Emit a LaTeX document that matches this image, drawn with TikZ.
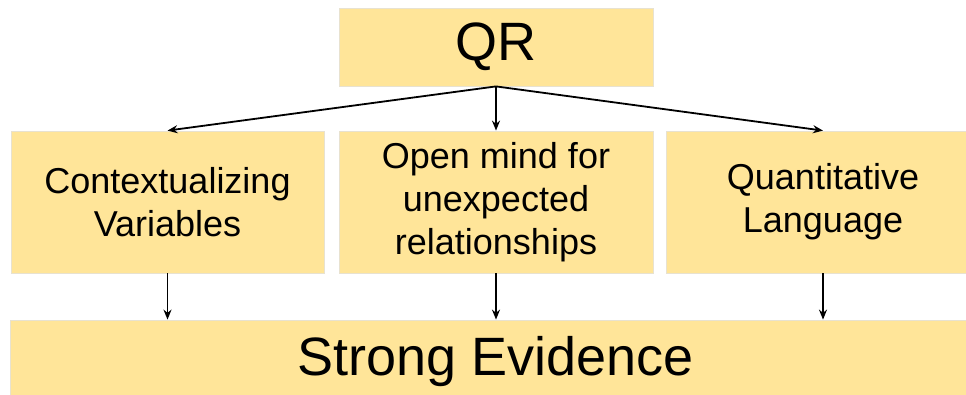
\documentclass[tikz,border=0pt]{standalone}
\usepackage{fontspec}
\setmainfont{Liberation Sans}
\usetikzlibrary{arrows.meta}
\definecolor{boxfill}{HTML}{FFE599}
\definecolor{boxline}{HTML}{E8E2D0}
\tikzset{
  box/.style={draw=boxline, line width=0.8pt, fill=boxfill, inner sep=0pt, align=center},
  midtext/.style={font=\fontsize{36}{43}\selectfont},
  bigtext/.style={font=\fontsize{54}{60}\selectfont},
  conn/.style={-{Stealth[length=10pt,width=8pt]}, line width=1.8pt, black}
}
\begin{document}
\begin{tikzpicture}[x=1pt,y=-1pt]
\useasboundingbox (0,0) rectangle (966,394);
\clip (0,0) rectangle (966,394);
\node[box, bigtext, minimum width=314pt, minimum height=78pt] (qr) at (496,47) {QR};
\node[box, midtext, minimum width=313pt, minimum height=142pt] (ctx) at (167.5,202) {Contextualizing\\Variables};
\node[box, midtext, minimum width=314pt, minimum height=142pt] (open) at (496,202) {Open mind for\\unexpected\\relationships};
\node[box, midtext, minimum width=313pt, minimum height=142pt] (quant) at (823,202) {Quantitative\\Language};
\node[box, bigtext, minimum width=970pt, minimum height=84pt] (ev) at (495.5,362) {Strong Evidence};
\draw[conn] (qr.south) -- (ctx.north);
\draw[conn] (qr.south) -- (open.north);
\draw[conn] (qr.south) -- (quant.north);
\draw[conn] (ctx.south) -- (ctx.south |- ev.north);
\draw[conn] (open.south) -- (open.south |- ev.north);
\draw[conn] (quant.south) -- (quant.south |- ev.north);
\end{tikzpicture}
\end{document}
